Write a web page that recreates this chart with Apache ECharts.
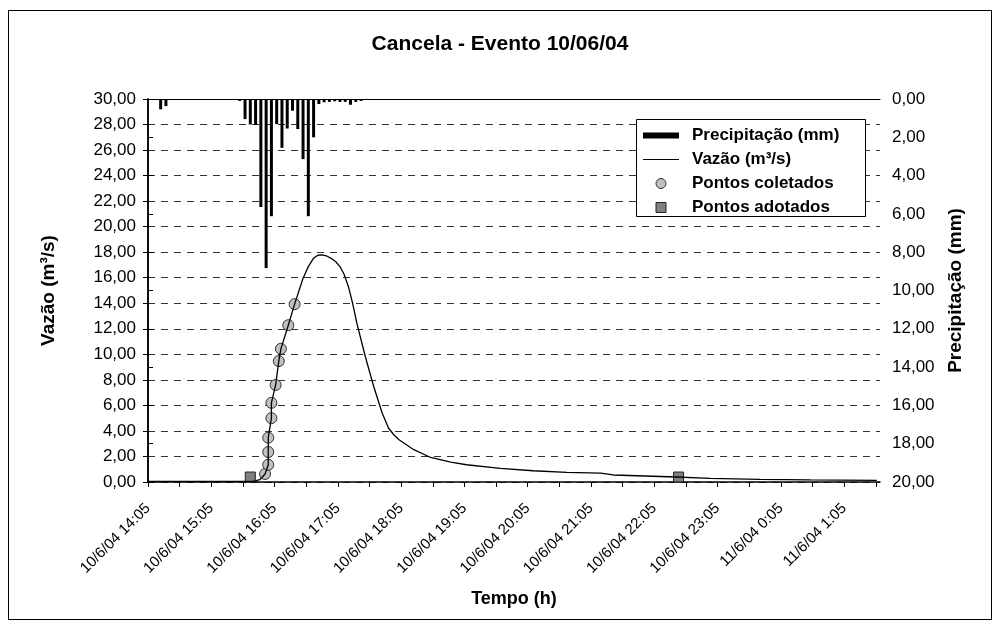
<!DOCTYPE html>
<html>
<head>
<meta charset="utf-8">
<script src="https://cdn.jsdelivr.net/npm/echarts@6/dist/echarts.min.js"></script>
<style>
  html, body { margin: 0; padding: 0; background: #fff; }
  #container { width: 1000px; height: 628px; }
</style>
</head>
<body>
<div id="container"></div>
<script>
// precipitation (mm), every 5 min
var rainTimes = ['14:17', '14:22', '15:32', '15:37', '15:42', '15:47', '15:52', '15:57', '16:02', '16:07',
  '16:12', '16:17', '16:22', '16:27', '16:32', '16:37', '16:42', '16:47', '16:52', '16:57',
  '17:02', '17:07', '17:12', '17:17', '17:22', '17:27', '18:42'];
var rainMm = [0.54, 0.37, 0.10, 1.05, 1.33, 1.36, 5.64, 8.83, 6.12, 1.31,
  2.55, 1.54, 0.61, 1.57, 3.14, 6.12, 2.00, 0.26, 0.17, 0.15,
  0.12, 0.15, 0.15, 0.30, 0.15, 0.10, 0.05];

// discharge hydrograph (m3/s)
var flowTimes = ['14:05', '15:45', '15:51', '15:56', '15:59', '15:59', '15:59', '16:02', '16:02', '16:06',
  '16:09', '16:11', '16:18', '16:24', '16:32', '16:37', '16:42', '16:46', '16:50', '16:54',
  '16:59', '17:03', '17:07', '17:11', '17:15', '17:19', '17:23', '17:31', '17:39', '17:47',
  '17:53', '17:58', '18:03', '18:17', '18:33', '18:52', '19:07', '19:39', '20:10', '20:42',
  '21:14', '21:26', '22:26', '22:58', '23:45', '0:33', '1:36'];
var flowValues = [0.05, 0.05, 0.18, 0.63, 1.35, 2.35, 3.47, 5.00, 6.20, 7.60,
  9.47, 10.43, 12.28, 13.93, 15.96, 16.87, 17.53, 17.76, 17.79, 17.72,
  17.50, 17.25, 16.87, 16.25, 15.30, 14.00, 12.44, 9.83, 7.48, 5.40,
  4.23, 3.70, 3.31, 2.53, 1.92, 1.56, 1.35, 1.06, 0.88, 0.75,
  0.70, 0.55, 0.39, 0.28, 0.20, 0.16, 0.13];

// measured points
var collectedTimes = ['15:56', '15:59', '15:59', '15:59', '16:02', '16:02', '16:06', '16:09', '16:11', '16:18', '16:24'];
var collectedValues = [0.63, 1.35, 2.35, 3.47, 5.00, 6.20, 7.60, 9.47, 10.43, 12.28, 13.93];

// adopted points
var adoptedTimes = ['15:42', '22:28'];
var adoptedValues = [0.39, 0.39];

var FONT = '"Liberation Sans", Arial, sans-serif';

// minutes after 10/6/04 14:05
function toMin(t) {
  var p = t.split(':');
  var h = parseInt(p[0], 10);
  if (h < 14) h += 24;
  return (h - 14) * 60 + parseInt(p[1], 10) - 5;
}
function pairs(times, vals) {
  var out = [];
  for (var i = 0; i < times.length; i++) out.push([toMin(times[i]), vals[i]]);
  return out;
}
function comma(v) {
  return v.toFixed(2).replace('.', ',');
}
function timeLabel(v) {
  if (v % 60 !== 0) return '';
  var total = 14 * 60 + 5 + v;
  var day = total >= 1440 ? 11 : 10;
  var hh = Math.floor((total % 1440) / 60);
  var mm = total % 60;
  return day + '/6/04 ' + hh + ':' + (mm < 10 ? '0' + mm : mm);
}

var dom = document.getElementById('container');
var myChart = echarts.init(dom);

var option = {
  animation: false,
  backgroundColor: '#fff',
  textStyle: { fontFamily: FONT, color: '#000' },
  title: {
    text: 'Cancela - Evento 10/06/04',
    left: 'center',
    top: 29,
    textStyle: { fontFamily: FONT, fontSize: 21, fontWeight: 'bold', color: '#000' }
  },
  graphic: [
    {
      type: 'rect',
      shape: { x: 8.5, y: 10.5, width: 983, height: 609 },
      style: { fill: null, stroke: '#000', lineWidth: 1 },
      silent: true
    },
    {
      type: 'rect',
      shape: { x: 636.5, y: 119.5, width: 229, height: 97 },
      style: { fill: '#fff', stroke: '#000', lineWidth: 1 },
      z: 5,
      silent: true
    }
  ],
  legend: {
    orient: 'vertical',
    left: 638,
    top: 122,
    itemWidth: 36,
    itemHeight: 10,
    itemGap: 7,
    selectedMode: false,
    z: 10,
    textStyle: { fontFamily: FONT, fontSize: 17, fontWeight: 'bold', color: '#000', lineHeight: 16, padding: [0, 0, 0, 8] },
    data: [
      { name: 'Precipitação (mm)', icon: 'path://M0,0H36V6H0Z', itemStyle: { color: '#000', borderWidth: 0 } },
      { name: 'Vazão (m³/s)', icon: 'path://M0,0H36V1H0Z', itemStyle: { color: '#000', borderWidth: 0 } },
      { name: 'Pontos coletados', icon: 'circle', itemStyle: { color: '#c0c0c0', borderColor: '#333', borderWidth: 1 } },
      { name: 'Pontos adotados', icon: 'path://M0,0H10V10H0Z', itemStyle: { color: '#808080', borderColor: '#222', borderWidth: 1 } }
    ]
  },
  grid: { left: 148, right: 120, top: 99, bottom: 146 },
  xAxis: [
    {
      type: 'value',
      min: 0,
      max: 694,
      interval: 30,
      name: 'Tempo (h)',
      nameLocation: 'middle',
      nameGap: 108,
      nameTextStyle: { fontFamily: FONT, fontSize: 18, fontWeight: 'bold', color: '#000' },
      axisLine: { show: true, lineStyle: { color: '#000', width: 1.5 } },
      axisTick: { show: true, length: 5, lineStyle: { color: '#000' } },
      axisLabel: {
        rotate: 45,
        margin: 24,
        fontFamily: FONT,
        fontSize: 15,
        color: '#000',
        showMaxLabel: false,
        formatter: timeLabel
      },
      splitLine: { show: false }
    },
    {
      type: 'value',
      position: 'top',
      min: 0,
      max: 694,
      axisLine: { show: true, lineStyle: { color: '#000', width: 1 } },
      axisTick: { show: false },
      axisLabel: { show: false },
      splitLine: { show: false }
    }
  ],
  yAxis: [
    {
      type: 'value',
      position: 'left',
      min: 0,
      max: 30,
      interval: 2,
      name: 'Vazão (m³/s)',
      nameLocation: 'middle',
      nameRotate: 90,
      nameGap: 90,
      nameTextStyle: { fontFamily: FONT, fontSize: 19, fontWeight: 'bold', color: '#000' },
      axisLine: { show: true, lineStyle: { color: '#000', width: 1.5 } },
      axisTick: { show: true, length: 5, lineStyle: { color: '#000' } },
      axisLabel: { fontFamily: FONT, fontSize: 17, color: '#000', margin: 12, formatter: comma },
      splitLine: { show: true, lineStyle: { color: '#333', width: 1, type: [7, 6] } }
    },
    {
      type: 'value',
      position: 'right',
      inverse: true,
      min: 0,
      max: 20,
      interval: 2,
      name: 'Precipitação (mm)',
      nameLocation: 'middle',
      nameRotate: 90,
      nameGap: 66,
      nameTextStyle: { fontFamily: FONT, fontSize: 19, fontWeight: 'bold', color: '#000' },
      axisLine: { show: true, lineStyle: { color: '#000', width: 1.5 } },
      axisTick: { show: true, length: 5, lineStyle: { color: '#000' } },
      axisLabel: { fontFamily: FONT, fontSize: 17, color: '#000', margin: 12, formatter: comma },
      splitLine: { show: false }
    }
  ],
  series: [
    {
      name: 'Precipitação (mm)',
      type: 'bar',
      xAxisIndex: 0,
      yAxisIndex: 1,
      barWidth: 3,
      itemStyle: { color: '#000' },
      data: pairs(rainTimes, rainMm)
    },
    {
      name: 'Vazão (m³/s)',
      type: 'line',
      xAxisIndex: 0,
      yAxisIndex: 0,
      showSymbol: false,
      symbol: 'none',
      itemStyle: { color: '#000' },
      lineStyle: { color: '#000', width: 1.3 },
      data: pairs(flowTimes, flowValues)
    },
    {
      name: 'Pontos coletados',
      type: 'scatter',
      xAxisIndex: 0,
      yAxisIndex: 0,
      symbol: 'circle',
      symbolSize: 11,
      itemStyle: { color: '#c0c0c0', borderColor: '#333', borderWidth: 1, opacity: 1 },
      data: pairs(collectedTimes, collectedValues)
    },
    {
      name: 'Pontos adotados',
      type: 'scatter',
      xAxisIndex: 0,
      yAxisIndex: 0,
      symbol: 'rect',
      symbolSize: 10,
      itemStyle: { color: '#808080', borderColor: '#222', borderWidth: 1, opacity: 1 },
      data: pairs(adoptedTimes, adoptedValues)
    }
  ]
};

if (option && typeof option === 'object') {
  myChart.setOption(option, true);
}
</script>
</body>
</html>
